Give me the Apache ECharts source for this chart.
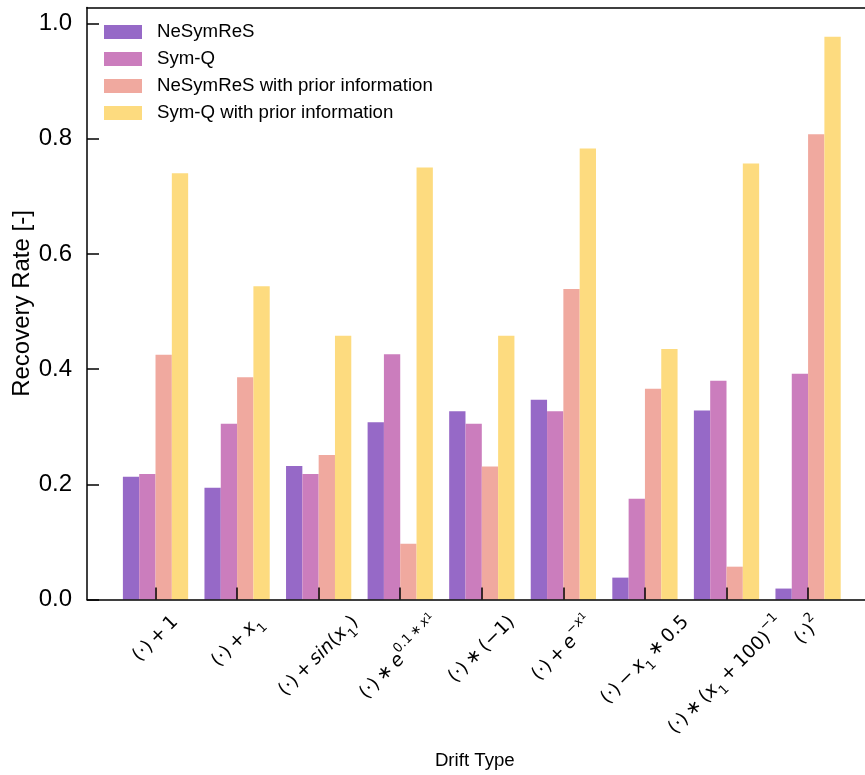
<!DOCTYPE html>
<html>
<head>
<meta charset="utf-8">
<script src="https://cdn.jsdelivr.net/npm/echarts@6/dist/echarts.min.js"></script>
<style>
  html, body { margin: 0; padding: 0; background: #ffffff; }
  #chart { width: 865px; height: 775px; }
</style>
</head>
<body>
<div id="chart"></div>
<script>
// Drift types (rich-text math labels) and their positions on the x axis
const driftTypes = [
  '{t|(·)\u2009+\u20091}',
  '{t|(·)\u2009+\u2009}{i|x}{sub|1}',
  '{t|(·)\u2009+\u2009}{i|sin}{t|(}{i|x}{sub|1}{t|)}',
  '{t|(·)\u2009∗\u2009}{i|e}{sup|0.1\u2009∗\u2009}{supi|x}{supsub|1}',
  '{t|(·)\u2009∗\u2009(−1)}',
  '{t|(·)\u2009+\u2009}{i|e}{sup|−}{supi|x}{supsub|1}',
  '{t|(·)\u2009−\u2009}{i|x}{sub|1}{t|\u2009∗\u20090.5}',
  '{t|(·)\u2009∗\u2009(}{i|x}{sub|1}{t|\u2009+\u2009100)}{sup|−1}',
  '{t|(·)}{sup|2}'
];
const positions = [0, 1, 2, 3, 4, 5, 6, 7, 8];

const seriesNames = ['NeSymReS', 'Sym-Q', 'NeSymReS with prior information', 'Sym-Q with prior information'];
const nesymres      = [0.213, 0.194, 0.232, 0.308, 0.327, 0.347, 0.038, 0.328, 0.019];
const symq          = [0.218, 0.305, 0.218, 0.426, 0.305, 0.327, 0.175, 0.380, 0.392];
const nesymresPrior = [0.425, 0.386, 0.251, 0.097, 0.231, 0.539, 0.366, 0.057, 0.808];
const symqPrior     = [0.740, 0.544, 0.458, 0.750, 0.458, 0.783, 0.435, 0.757, 0.977];
const colors = ['#9669c7', '#cb7dbd', '#f0a99f', '#fddb7f'];

const yTicks = [0, 0.2, 0.4, 0.6, 0.8, 1.0];

// x range of the axes (data span plus a 5% margin on each side)
const X_MIN = -0.84, X_MAX = 8.84;

// ---- text styles ----
const SANS = 'Liberation Sans';
const MATH = 'DejaVu Sans';
const FS = 18.67, FS_TICK = 24, FS_YNAME = 24, SMALL = 13.07, TINY = 9.8;

const mathStyles = {
  t:      { fontSize: FS,    lineHeight: 30 },
  i:      { fontSize: FS,    lineHeight: 30, fontStyle: 'italic' },
  sub:    { fontSize: SMALL, lineHeight: 17, verticalAlign: 'bottom' },
  sup:    { fontSize: SMALL, lineHeight: 17, verticalAlign: 'top' },
  supi:   { fontSize: SMALL, lineHeight: 17, verticalAlign: 'top', fontStyle: 'italic' },
  supsub: { fontSize: TINY,  lineHeight: 25, verticalAlign: 'top' }
};
Object.keys(mathStyles).forEach(k => {
  mathStyles[k].fontFamily = MATH;
  mathStyles[k].color = '#000000';
});

// Measure each label so the rotated text box can be centred under its tick
const ctx = document.createElement('canvas').getContext('2d');
function measureLabel(str) {
  let w = 0, hasSup = false;
  str.replace(/\{(\w+)\|([^}]*)\}/g, (m, s, txt) => {
    const st = mathStyles[s];
    ctx.font = (st.fontStyle || 'normal') + ' ' + st.fontSize + 'px "' + MATH + '"';
    w += ctx.measureText(txt).width;
    if (s.indexOf('sup') === 0) hasSup = true;
    return m;
  });
  return { w: w, h: hasSup ? 27 : 22 };
}

const rich = Object.assign({}, mathStyles);
driftTypes.forEach((lab, k) => {
  const m = measureLabel(lab);
  const shift = (m.w + m.h) / 2;
  rich['sp' + k] = { width: shift, fontSize: 1, lineHeight: 30 };
  rich['e' + k] = { fontSize: 1, lineHeight: shift };
});

// Blank end labels keep the axis from dropping its first/last real label
const labelValues = [X_MIN + 0.04].concat(positions, [X_MAX - 0.04]);

function barSeries(name, values, color) {
  return {
    name: name,
    type: 'bar',
    xAxisIndex: 0,
    yAxisIndex: 0,
    barWidth: '20%',
    barGap: '0%',
    z: 2,
    itemStyle: { color: color },
    emphasis: { disabled: true },
    data: positions.map((p, k) => [p, values[k]])
  };
}

const chart = echarts.init(document.getElementById('chart'), null, { renderer: 'canvas' });

chart.setOption({
  animation: false,
  backgroundColor: '#ffffff',
  textStyle: { fontFamily: SANS },
  grid: {
    left: 87, top: 7.5, bottom: 175.5, right: -11.6,
    containLabel: false,
    outerBoundsMode: 'none'
  },
  legend: {
    orient: 'vertical',
    left: 104, top: 22.5,
    padding: 0,
    itemWidth: 38, itemHeight: 14, itemGap: 8,
    icon: 'rect',
    data: seriesNames,
    textStyle: { fontFamily: SANS, fontSize: FS, color: '#000000', lineHeight: 19, padding: [0, 0, 0, 10] }
  },
  xAxis: [
    {
      type: 'value',
      position: 'bottom',
      z: 5,
      min: X_MIN, max: X_MAX,
      name: 'Drift Type',
      nameLocation: 'middle',
      nameGap: 152,
      nameMoveOverlap: false,
      nameTextStyle: { fontFamily: SANS, fontSize: FS, color: '#000000', padding: [0, 14, 0, 0] },
      axisLine: { show: true, onZero: false, lineStyle: { color: '#000000', width: 1.5 } },
      axisTick: { show: true, inside: true, length: 12, lineStyle: { color: '#000000', width: 1.5 }, customValues: positions },
      axisLabel: {
        show: true,
        customValues: labelValues,
        hideOverlap: false,
        rotate: 45,
        align: 'center',
        verticalAlign: 'middle',
        margin: 12,
        fontSize: 4,
        rich: rich,
        formatter: function (value) {
          const k = Math.round(value);
          if (Math.abs(value - k) > 1e-6 || k < 0 || k >= driftTypes.length) return ' ';
          return '{e' + k + '| }\n' + driftTypes[k] + '{sp' + k + '| }';
        }
      },
      splitLine: { show: false }
    },
    {
      type: 'value',
      position: 'top',
      z: 5,
      min: X_MIN, max: X_MAX,
      axisLine: { show: true, onZero: false, lineStyle: { color: '#000000', width: 1.5 } },
      axisTick: { show: false },
      axisLabel: { show: false },
      splitLine: { show: false }
    }
  ],
  yAxis: [
    {
      type: 'value',
      z: 5,
      min: 0, max: 1.028, interval: 0.2,
      name: 'Recovery Rate [-]',
      nameLocation: 'middle',
      nameGap: 53,
      nameMoveOverlap: false,
      nameTextStyle: { fontFamily: SANS, fontSize: FS_YNAME, color: '#000000' },
      axisLine: { show: true, onZero: false, lineStyle: { color: '#000000', width: 1.5 } },
      axisTick: { show: true, inside: true, length: 12, lineStyle: { color: '#000000', width: 1.5 }, customValues: yTicks },
      axisLabel: {
        customValues: yTicks,
        margin: 15,
        fontFamily: SANS, fontSize: FS_TICK, color: '#000000',
        formatter: v => v.toFixed(1)
      },
      splitLine: { show: false }
    }
  ],
  series: [
    barSeries(seriesNames[0], nesymres, colors[0]),
    barSeries(seriesNames[1], symq, colors[1]),
    barSeries(seriesNames[2], nesymresPrior, colors[2]),
    barSeries(seriesNames[3], symqPrior, colors[3])
  ]
});
</script>
</body>
</html>
